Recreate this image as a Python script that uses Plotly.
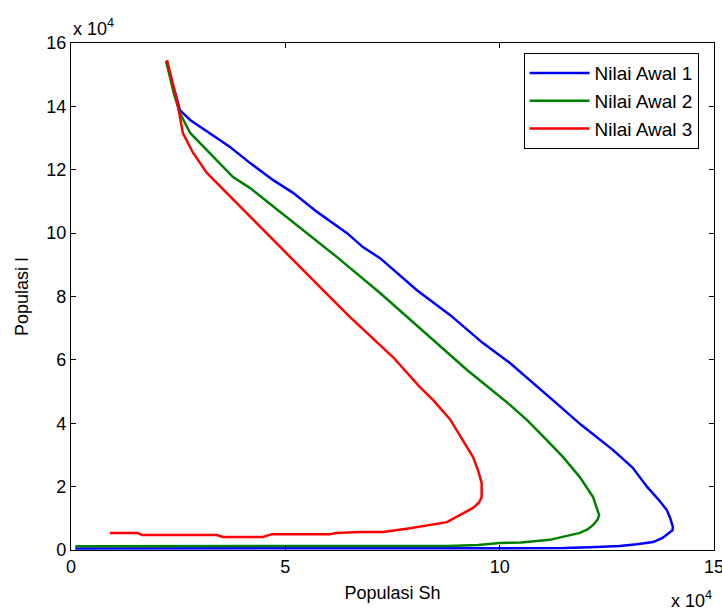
import plotly.graph_objects as go

# Values in units of 10^4
blue_x = [0.1, 2.0, 4.0, 6.0, 8.0, 10.0, 11.5, 12.1, 12.8, 13.2, 13.58, 13.8, 13.97, 14.03, 14.04, 13.98, 13.9,
          13.7, 13.44, 13.1, 12.64, 11.9, 11.24, 10.24, 9.61, 8.84, 8.07, 7.21, 6.81, 6.44, 5.74, 5.18,
          4.71, 4.18, 3.71, 3.24, 2.78, 2.54, 2.5, 2.35, 2.22]
blue_y = [0.05, 0.05, 0.05, 0.05, 0.05, 0.05, 0.06, 0.09, 0.13, 0.18, 0.25, 0.38, 0.54, 0.62, 0.73, 1.0, 1.26,
          1.6, 1.99, 2.6, 3.16, 3.95, 4.73, 5.9, 6.53, 7.42, 8.2, 9.21, 9.56, 10.0, 10.67, 11.27,
          11.68, 12.21, 12.72, 13.16, 13.57, 13.88, 14.1, 14.8, 15.43]

green_x = [0.1, 2.0, 4.0, 6.0, 8.0, 8.8, 9.5, 10.0, 10.5, 11.17, 11.87, 12.05, 12.18, 12.28, 12.32, 12.25, 12.18,
           11.87, 11.48, 11.1, 10.64, 10.24, 9.24, 8.37, 7.21, 6.2, 5.18, 4.18, 3.78, 3.24, 2.78, 2.54,
           2.4, 2.22]
green_y = [0.12, 0.12, 0.12, 0.12, 0.12, 0.13, 0.16, 0.22, 0.24, 0.32, 0.54, 0.65, 0.79, 0.95, 1.1, 1.4, 1.67,
           2.3, 2.93, 3.47, 4.1, 4.58, 5.68, 6.72, 8.11, 9.25, 10.35, 11.42, 11.77, 12.53, 13.16, 13.79,
           14.4, 15.43]

red_x = [0.91, 1.56, 1.66, 3.4, 3.55, 4.48, 4.69, 6.04, 6.2, 6.74, 7.28, 7.91, 8.77, 9.07, 9.38, 9.52, 9.58,
         9.58, 9.5, 9.38, 8.84, 8.45, 8.14, 7.51, 6.51, 5.88, 5.11, 4.18, 3.64, 3.17, 2.85, 2.61, 2.47, 2.24]
red_y = [0.54, 0.54, 0.47, 0.47, 0.41, 0.41, 0.5, 0.5, 0.54, 0.57, 0.57, 0.69, 0.88, 1.1, 1.33, 1.5, 1.67,
         2.11, 2.5, 2.93, 4.13, 4.73, 5.14, 6.09, 7.35, 8.2, 9.25, 10.51, 11.27, 11.9, 12.53, 13.16, 14.2, 15.46]

series_names = ["Nilai Awal 1", "Nilai Awal 2", "Nilai Awal 3"]
series_colors = ["#0000FF", "#008000", "#FF0000"]

x_ticks = [0, 5, 10, 15]
y_ticks = [0, 2, 4, 6, 8, 10, 12, 14, 16]

FONT = "Liberation Sans, Arial, sans-serif"
FS = 18

fig = go.Figure()
for xs, ys, name, col in zip([blue_x, green_x, red_x], [blue_y, green_y, red_y], series_names, series_colors):
    fig.add_trace(go.Scatter(x=xs, y=ys, mode="lines", name=name,
                             line=dict(color=col, width=2.5)))

axis_common = dict(showline=True, linecolor="black", linewidth=1.3, mirror="ticks",
                   ticks="inside", ticklen=5, tickcolor="black", tickwidth=1,
                   showgrid=False, zeroline=False, ticklabeloverflow="allow",
                   automargin=False,
                   tickfont=dict(family=FONT, size=FS, color="black"))

fig.update_layout(
    width=722, height=610,
    margin=dict(l=71, r=8, t=43, b=60, autoexpand=False),
    paper_bgcolor="white", plot_bgcolor="white",
    font=dict(family=FONT, size=FS, color="black"),
    xaxis=dict(range=[0, 15], tickvals=x_ticks, ticktext=[str(v) for v in x_ticks],
               title=dict(text="Populasi Sh", standoff=10, font=dict(family=FONT, size=FS)),
               **axis_common),
    yaxis=dict(range=[0, 16], tickvals=y_ticks, ticktext=[str(v) for v in y_ticks],
               title=dict(text="Populasi I", standoff=12, font=dict(family=FONT, size=FS)),
               **axis_common),
    legend=dict(x=0.976, y=0.98, xanchor="right", yanchor="top",
                bgcolor="white", bordercolor="black", borderwidth=1,
                font=dict(family=FONT, size=19, color="black"),
                itemwidth=60, tracegroupgap=0),
    showlegend=True,
)

fig.add_annotation(text="x 10<sup>4</sup>", xref="paper", yref="paper", x=0, y=1,
                   xanchor="left", yanchor="bottom", showarrow=False, yshift=2,
                   font=dict(family=FONT, size=FS))
fig.add_annotation(text="x 10<sup>4</sup>", xref="paper", yref="paper", x=1, y=0,
                   xanchor="right", yanchor="top", showarrow=False, yshift=-36,
                   font=dict(family=FONT, size=FS))

fig.write_html("out.html", config={"displayModeBar": False},
               post_script="document.body.style.margin='0';")
